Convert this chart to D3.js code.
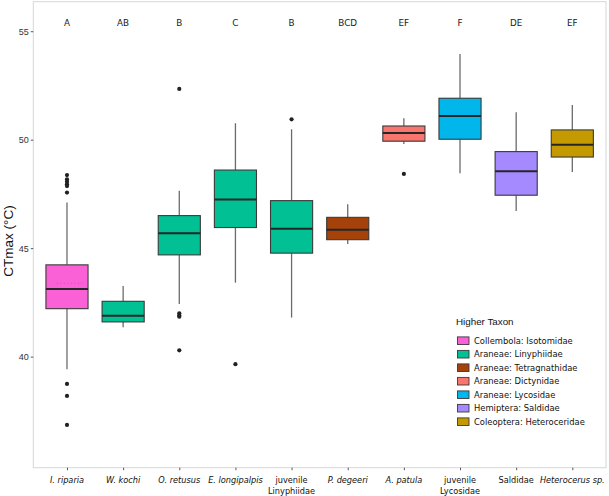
<!DOCTYPE html>
<html><head><meta charset="utf-8">
<script src="https://cdn.jsdelivr.net/npm/d3@7"></script>
<style>body{margin:0;background:#fff}svg{display:block}</style>
</head><body>
<svg id="c" width="609" height="496"></svg>
<script>
const categories = ["I. riparia","W. kochi","O. retusus","E. longipalpis","juvenile Linyphiidae","P. degeeri","A. patula","juvenile Lycosidae","Saldidae","Heterocerus sp."];
const italicCats = [true,true,true,true,false,true,true,false,false,true];
const taxa = ["Collembola: Isotomidae","Araneae: Linyphiidae","Araneae: Linyphiidae","Araneae: Linyphiidae","Araneae: Linyphiidae","Araneae: Tetragnathidae","Araneae: Dictynidae","Araneae: Lycosidae","Hemiptera: Saldidae","Coleoptera: Heteroceridae"];
const whiskerLow = [39.42,41.35,42.43,43.41,41.80,45.19,49.80,48.45,46.71,48.51];
const q1 =         [42.21,41.60,44.69,45.95,44.77,45.39,49.93,50.02,47.44,49.20];
const medians =    [43.12,41.88,45.69,47.24,45.90,45.85,50.31,51.09,48.54,49.77];
const q3 =         [44.23,42.55,46.50,48.60,47.19,46.42,50.63,51.91,49.45,50.45];
const whiskerHigh =[47.10,43.26,47.65,50.76,50.48,47.02,50.99,53.95,51.26,51.60];
const outliers = [
  [48.37,48.17,48.06,47.95,47.86,47.56,38.74,38.19,36.85],
  [],
  [52.34,42.00,41.90,41.84,40.29],
  [39.65],
  [50.94],
  [],
  [48.42],
  [],[],[]
];
const meanLine = [43.38,null,null,null,null,null,null,null,null,null];
const letters = ["A","AB","B","C","B","BCD","EF","F","DE","EF"];
const legendTaxa = ["Collembola: Isotomidae","Araneae: Linyphiidae","Araneae: Tetragnathidae","Araneae: Dictynidae","Araneae: Lycosidae","Hemiptera: Saldidae","Coleoptera: Heteroceridae"];
const legendColors = ["#FB61D7","#00C094","#A5420A","#F8766D","#00B6EB","#A58AFF","#C49A00"];
const yTicks = [40,45,50,55];
const letterY = 55.4;

const svg = d3.select("#c");
const P = {l:33.3, r:606, t:1.7, b:467.7};
const x = d3.scalePoint().domain(categories).range([P.l,P.r]).padding(0.6);
const y = d3.scaleLinear().domain([34.88,56.36]).range([P.b,P.t]);
const color = d3.scaleOrdinal().domain(legendTaxa).range(legendColors);
const bw = x.step()*0.75;

svg.append("rect").attr("x",P.l).attr("y",P.t).attr("width",P.r-P.l).attr("height",P.b-P.t)
  .attr("fill","#fff").attr("stroke","#D6D6D6").attr("stroke-width",1);

// y axis
const yAxis = svg.append("g").attr("transform",`translate(${P.l},0)`)
  .call(d3.axisLeft(y).tickValues(yTicks).tickSize(2.5).tickPadding(2));
yAxis.select(".domain").remove();
yAxis.selectAll(".tick line").attr("stroke","#555");
yAxis.selectAll(".tick text").attr("fill","#333").attr("font-size","9px").attr("font-family","Liberation Sans, Arial, sans-serif");

// x axis
const xAxis = svg.append("g").attr("transform",`translate(0,${P.b})`)
  .call(d3.axisBottom(x).tickSize(2.5).tickFormat(""));
xAxis.select(".domain").remove();
xAxis.selectAll(".tick line").attr("stroke","#555");
categories.forEach((c,i)=>{
  const words = c.startsWith("juvenile ") ? ["juvenile", c.slice(9)] : [c];
  const t = svg.append("text").attr("x",x(c)).attr("y",483.3)
    .attr("text-anchor","middle").attr("font-family","DejaVu Sans, Verdana, sans-serif")
    .attr("font-size","8.2px").attr("fill","#111")
    .attr("font-style", italicCats[i] ? "italic" : "normal");
  words.forEach((w,j)=>t.append("tspan").attr("x",x(c)).attr("dy", j===0?0:10.8).text(w));
});

// y title
svg.append("text").attr("transform",`translate(13,241) rotate(-90)`)
  .attr("text-anchor","middle").attr("font-family","Liberation Sans, Arial, sans-serif")
  .attr("font-size","13.5px").attr("fill","#111").text("CTmax (°C)");

// boxes
const g = svg.append("g");
categories.forEach((c,i)=>{
  const cx = x(c);
  g.append("line").attr("x1",cx).attr("x2",cx).attr("y1",y(q3[i])).attr("y2",y(whiskerHigh[i]))
    .attr("stroke","#6b6b6b").attr("stroke-width",1.3);
  g.append("line").attr("x1",cx).attr("x2",cx).attr("y1",y(q1[i])).attr("y2",y(whiskerLow[i]))
    .attr("stroke","#6b6b6b").attr("stroke-width",1.3);
  g.append("rect").attr("x",cx-bw/2).attr("width",bw).attr("y",y(q3[i])).attr("height",y(q1[i])-y(q3[i]))
    .attr("fill",color(taxa[i])).attr("stroke","#3a3a3a").attr("stroke-width",1.1);
  g.append("line").attr("x1",cx-bw/2).attr("x2",cx+bw/2).attr("y1",y(medians[i])).attr("y2",y(medians[i]))
    .attr("stroke","#262626").attr("stroke-width",2);
  if(meanLine[i]!==null){
    g.append("line").attr("x1",cx-10).attr("x2",cx+16).attr("y1",y(meanLine[i])).attr("y2",y(meanLine[i]))
      .attr("stroke","#c23aa8").attr("stroke-width",0.8).attr("stroke-dasharray","1,2.5").attr("opacity",0.7);
  }
  outliers[i].forEach(v=>{
    g.append("circle").attr("cx",cx).attr("cy",y(v)).attr("r",2.1).attr("fill","#222");
  });
  svg.append("text").attr("x",cx).attr("y",y(letterY)).attr("dy","0.36em")
    .attr("text-anchor","middle").attr("font-family","DejaVu Sans, Verdana, sans-serif")
    .attr("font-size","8.8px").attr("fill","#1a1a1a").text(letters[i]);
});

// legend
const lg = svg.append("g");
lg.append("text").attr("x",456).attr("y",321.7).attr("dy","0.35em")
  .attr("font-family","Liberation Sans, Arial, sans-serif").attr("font-size","9.8px").attr("fill","#111").text("Higher Taxon");
legendTaxa.forEach((t,i)=>{
  const cy = 340.7 + i*13.5;
  lg.append("rect").attr("x",457.5).attr("y",cy-3.8).attr("width",11.5).attr("height",7.6)
    .attr("fill",legendColors[i]).attr("stroke","#3a3a3a").attr("stroke-width",0.9);
  lg.append("text").attr("x",474).attr("y",cy).attr("dy","0.35em")
    .attr("font-family","DejaVu Sans, Verdana, sans-serif").attr("font-size","8.4px").attr("fill","#111").text(t);
});
</script>
</body></html>
